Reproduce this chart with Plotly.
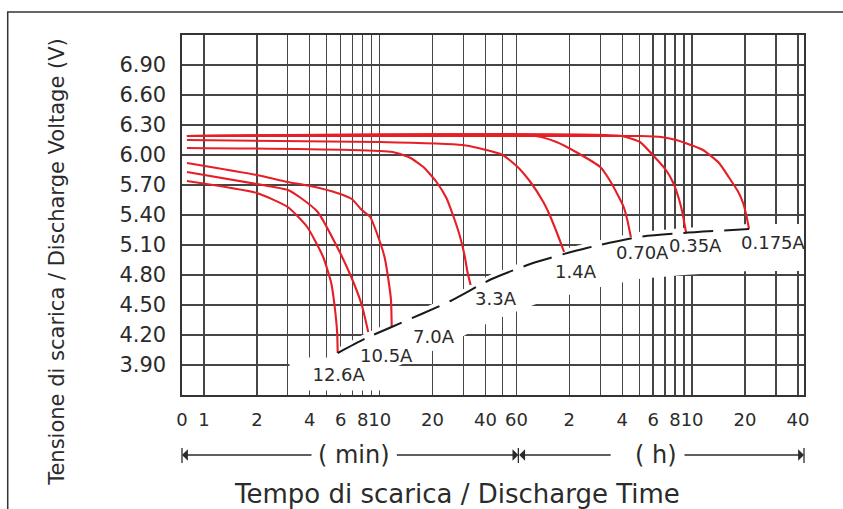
import math
import plotly.graph_objects as go

# ---------------- data (time in minutes, voltage in V) ----------------
t_126 = [0.8, 2.0, 3.0, 3.87, 4.77, 5.30, 5.55, 5.73, 5.77]
v_126 = [5.74, 5.62, 5.48, 5.28, 4.98, 4.72, 4.48, 4.22, 4.02]

t_105 = [0.8, 2.0, 3.0, 3.56, 4.44, 5.73, 6.89, 7.91, 8.61]
v_105 = [5.83, 5.71, 5.65, 5.57, 5.43, 5.08, 4.78, 4.50, 4.23]

t_70 = [0.8, 2.0, 3.0, 4.03, 5.73, 6.94, 7.91, 8.83, 9.86, 10.66, 11.22, 11.6, 11.71]
v_70 = [5.92, 5.80, 5.73, 5.69, 5.62, 5.56, 5.45, 5.38, 5.17, 4.98, 4.75, 4.55, 4.28]

t_33 = [0.8, 11.87, 14.98, 17.74, 21.06, 23.98, 26.12, 28.49, 30.4, 31.6, 32.94]
v_33 = [6.07, 6.03, 5.97, 5.88, 5.73, 5.57, 5.40, 5.20, 5.00, 4.83, 4.70]

t_14 = [0.8, 10.0, 29.7, 36.4, 50.2, 61.0, 72.1, 85.4, 92.8, 103.2, 112.1]
v_14 = [6.15, 6.13, 6.10, 6.07, 6.00, 5.88, 5.73, 5.53, 5.40, 5.20, 5.03]

t_070 = [0.8, 76.8, 101.5, 134.1, 180.0, 203.4, 229.7, 244.8, 256.7, 268.9]
v_070 = [6.19, 6.19, 6.13, 6.02, 5.88, 5.75, 5.58, 5.48, 5.35, 5.18]

t_035 = [0.8, 238, 303, 367, 426, 469, 503, 529, 547, 555]
v_035 = [6.19, 6.19, 6.13, 5.98, 5.85, 5.72, 5.57, 5.42, 5.28, 5.22]

t_0175 = [0.8, 303, 401, 487, 589, 692, 854, 969, 1099, 1170, 1227, 1265]
v_0175 = [6.19, 6.19, 6.18, 6.15, 6.10, 6.05, 5.92, 5.78, 5.63, 5.52, 5.38, 5.26]

# end-of-discharge line
cut_t = [5.77, 8.4, 11.7, 25.3, 43.4, 77.8, 150.9, 297, 538, 1265]
cut_v = [4.02, 4.17, 4.28, 4.54, 4.76, 4.93, 5.07, 5.18, 5.22, 5.26]

# curve labels
label_text = ["12.6A", "10.5A", "7.0A", "3.3A", "1.4A", "0.70A", "0.35A", "0.175A"]
label_t = [5.9, 11.0, 20.3, 45.8, 131.7, 314, 626, 1739]
label_v = [3.81, 4.00, 4.19, 4.57, 4.84, 5.03, 5.10, 5.13]

# axis ticks
x_tickvals = [0.75, 1, 2, 3, 4, 5, 6, 7, 8, 9, 10, 20, 30, 40, 50, 60,
              120, 180, 240, 300, 360, 420, 480, 540, 600, 1200, 1800, 2400]
x_ticktext = ["0", "1", "2", "", "4", "", "6", "", "8", "", "10", "20", "", "40", "", "60",
              "2", "", "4", "", "6", "", "8", "", "10", "20", "", "40"]
y_tickvals = [3.9, 4.2, 4.5, 4.8, 5.1, 5.4, 5.7, 6.0, 6.3, 6.6, 6.9]
y_ticktext = ["3.90", "4.20", "4.50", "4.80", "5.10", "5.40", "5.70", "6.00", "6.30", "6.60", "6.90"]

x_min, x_max = 0.75, 2600
y_min, y_max = 3.6, 7.2

RED = "#e61e26"
INK = "#2b2b2b"
GRID = "#454545"
FONT = "DejaVu Sans"

fig = go.Figure()

# white gap band under the cut-off line (hides the grid like the original)
bx = cut_t + [x_max]
top = [v + 0.05 for v in cut_v] + [cut_v[-1] + 0.05]
bot = [v - 0.42 for v in cut_v] + [cut_v[-1] - 0.42]
fig.add_trace(go.Scatter(x=bx + bx[::-1], y=top + bot[::-1], fill="toself",
                         fillcolor="white", mode="lines", line=dict(width=0),
                         hoverinfo="skip", showlegend=False))

series = [(t_126, v_126), (t_105, v_105), (t_70, v_70), (t_33, v_33),
          (t_14, v_14), (t_070, v_070), (t_035, v_035), (t_0175, v_0175)]
for t, v in series:
    t = [max(x, x_min) for x in t]
    fig.add_trace(go.Scatter(x=t, y=v, mode="lines",
                             line=dict(color=RED, width=2.1, shape="spline", smoothing=0.5),
                             hoverinfo="skip", showlegend=False))

fig.add_trace(go.Scatter(x=cut_t, y=cut_v, mode="lines",
                         line=dict(color="#1a1a1a", width=2, dash="30px,11px",
                                   shape="spline", smoothing=0.6),
                         hoverinfo="skip", showlegend=False))

annotations = []
for i, (txt, t, v) in enumerate(zip(label_text, label_t, label_v)):
    a = dict(x=math.log10(t), y=v, xref="x", yref="y", text=txt, showarrow=False,
             font=dict(family=FONT, size=18, color=INK), xanchor="center", yanchor="middle")
    if i == 0:
        a.update(bgcolor="white", width=96, height=30)
    annotations.append(a)

# axis titles
annotations.append(dict(x=-0.2015, y=0.369, xref="paper", yref="paper", textangle=-90,
                        text="Tensione di scarica / Discharge Voltage (V)", showarrow=False,
                        font=dict(family=FONT, size=21, color=INK),
                        xanchor="center", yanchor="middle"))
annotations.append(dict(x=0.4416, y=-0.275, xref="paper", yref="paper",
                        text="Tempo di scarica / Discharge Time", showarrow=False,
                        font=dict(family=FONT, size=26, color=INK),
                        xanchor="center", yanchor="middle"))
# unit labels
annotations.append(dict(x=0.2768, y=-0.1667, xref="paper", yref="paper", text="( min)",
                        showarrow=False, font=dict(family=FONT, size=24, color=INK),
                        xanchor="center", yanchor="middle"))
annotations.append(dict(x=0.7627, y=-0.1667, xref="paper", yref="paper", text="( h)",
                        showarrow=False, font=dict(family=FONT, size=24, color=INK),
                        xanchor="center", yanchor="middle"))
# arrows
for hx, ax in [(0.0, 131), (0.5408, -123), (0.5421, 93), (1.0, -121)]:
    annotations.append(dict(x=hx, y=-0.1667, xref="paper", yref="paper", text="",
                            showarrow=True, ax=ax, ay=0, arrowhead=1, arrowsize=1.5,
                            arrowwidth=1.3, arrowcolor=INK))

shapes = []
for bxp in [0.0, 0.5408, 1.0]:
    shapes.append(dict(type="line", xref="paper", yref="paper", x0=bxp, x1=bxp,
                       y0=-0.1472, y1=-0.1889, line=dict(color=INK, width=1.3)))
# outer frame
shapes.append(dict(type="rect", xref="paper", yref="paper", x0=-0.2802, x1=1.3,
                   y0=-0.6, y1=1.0639, line=dict(color="#333333", width=1.5)))

fig.update_layout(
    width=843, height=509,
    margin=dict(l=182, r=39, t=35, b=114, autoexpand=False),
    paper_bgcolor="white", plot_bgcolor="white",
    showlegend=False,
    annotations=annotations, shapes=shapes,
    xaxis=dict(type="log", range=[math.log10(x_min), math.log10(x_max)],
               tickmode="array", tickvals=x_tickvals, ticktext=x_ticktext,
               tickangle=0, automargin=False,
               showgrid=True, gridcolor=GRID, gridwidth=1.3,
               showline=True, linecolor="#333333", linewidth=1.6, mirror=True,
               ticks="", zeroline=False, ticklabelstandoff=8,
               tickfont=dict(family=FONT, size=18, color=INK)),
    yaxis=dict(range=[y_min, y_max], tickmode="array", tickvals=y_tickvals,
               ticktext=y_ticktext, automargin=False,
               showgrid=True, gridcolor=GRID, gridwidth=1.3,
               showline=True, linecolor="#333333", linewidth=1.6, mirror=True,
               ticks="", zeroline=False, ticklabelstandoff=10,
               tickfont=dict(family=FONT, size=21, color=INK)),
)

fig.write_html("out.html",
               config={"displayModeBar": False, "staticPlot": True},
               post_script="document.body.style.margin='0px';document.body.style.overflow='hidden';")
